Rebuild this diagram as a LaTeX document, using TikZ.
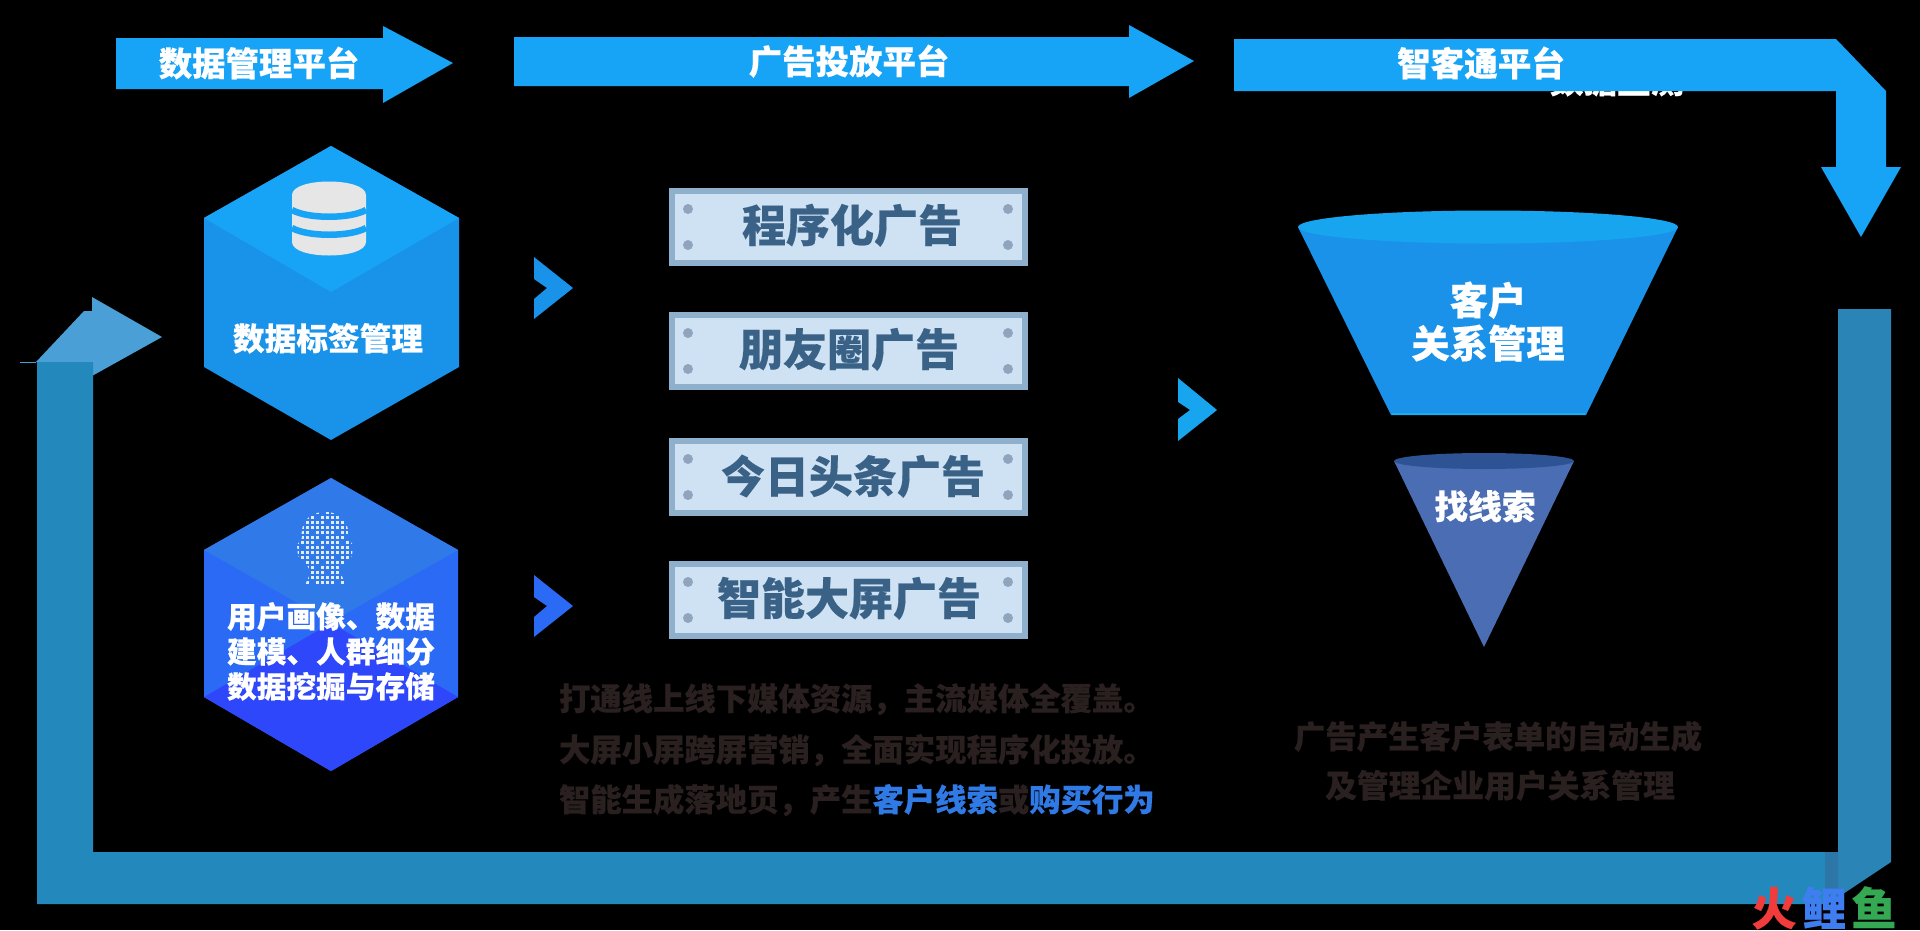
\documentclass[tikz,border=0pt]{standalone}
\usepackage{fontspec}
\setmainfont{Noto Sans CJK SC}[BoldFeatures={FakeBold=0.35}]
\definecolor{arrowblue}{HTML}{17A3F6}
\definecolor{hextop}{HTML}{17A4F6}
\definecolor{hexside}{HTML}{1992EA}
\definecolor{loopblue}{HTML}{2389BC}
\definecolor{loopright}{HTML}{2A84B5}
\definecolor{loopdark}{HTML}{2C76A8}
\definecolor{looplight}{HTML}{4A9FD6}
\definecolor{hbtop}{HTML}{3079E8}
\definecolor{hbside}{HTML}{2A6AF5}
\definecolor{hblow}{HTML}{2F47FB}
\definecolor{cardborder}{HTML}{8FB0CC}
\definecolor{cardfill}{HTML}{CFE2F3}
\definecolor{rivet}{HTML}{8FA5BD}
\definecolor{cardtext}{HTML}{3A6186}
\definecolor{paratext}{HTML}{2A2020}
\definecolor{accent}{HTML}{2F7AE5}
\definecolor{funnelside}{HTML}{1A92EA}
\definecolor{funneltop}{HTML}{18A5F0}
\definecolor{funneledge}{HTML}{18B0EE}
\definecolor{smallside}{HTML}{4A6DB3}
\definecolor{smalltop}{HTML}{2D5394}
\definecolor{dbgrey}{HTML}{E6E6E6}
\definecolor{logored}{HTML}{F23B3B}
\definecolor{logoblue}{HTML}{3F7EF0}
\definecolor{logogreen}{HTML}{34A853}
\tikzset{
  lbl/.style 2 args={inner sep=0pt, outer sep=0pt, text=#2, font=\fontsize{#1}{#1}\selectfont\bfseries,
    text height=0.86*#1pt, text depth=0.14*#1pt},
  cardbox/.style={draw=cardborder, line width=5.5pt, fill=cardfill},
  rivetdot/.style={fill=rivet, draw=none},
}
\newcommand{\cardat}[3]{% top, bottom (of outer), name
  \draw[cardbox] (672,#1+3) rectangle (1025,#2-3);
  \foreach \xx in {688,1008}{
    \fill[rivetdot] (\xx,#1+21) circle (5);
    \fill[rivetdot] (\xx,#1+57) circle (5);
  }
}
\begin{document}
\begin{tikzpicture}[x=1pt,y=-1pt]
\useasboundingbox (0,0) rectangle (1920,930);
\fill[black] (0,0) rectangle (1920,930);

% hidden label behind the third banner
\node[lbl={33.5}{white}] (hiddenlabel) at (1617,81) {数据监测};

% top banners
\fill[arrowblue] (116,38) -- (383,38) -- (383,26) -- (453,63) -- (383,103) -- (383,89) -- (116,89) -- cycle;
\fill[arrowblue] (514,37) -- (1129,37) -- (1129,25) -- (1194,61) -- (1129,98) -- (1129,86) -- (514,86) -- cycle;
\fill[arrowblue] (1234,39) -- (1836,39) -- (1886,91) -- (1886,167) -- (1901,167) -- (1861,237) -- (1821,167) -- (1836,167) -- (1836,91) -- (1234,91) -- cycle;
\node[lbl={33.4}{white}] (bannerA) at (259,64) {数据管理平台};
\node[lbl={33.4}{white}] (bannerB) at (849,62) {广告投放平台};
\node[lbl={33.6}{white}] (bannerC) at (1481,64) {智客通平台};

% hexagon 1
\fill[hexside] (331,146) -- (459,218) -- (459,367) -- (331,440) -- (204,367) -- (204,218) -- cycle;
\fill[hextop] (331,146) -- (459,218) -- (331,292) -- (204,218) -- cycle;
\fill[dbgrey] (292,195) .. controls (292,177) and (366,177) .. (366,195) -- (366,242) .. controls (366,260) and (292,260) .. (292,242) -- cycle;
\draw[hextop, line width=6.5pt] (292,210) .. controls (308,219) and (350,219) .. (366,210);
\draw[hextop, line width=6.5pt] (292,228) .. controls (308,237) and (350,237) .. (366,228);
\node[lbl={31.7}{white}] (hexAtext) at (328,339) {数据标签管理};

% hexagon 2
\fill[hbside] (331,478) -- (458,550) -- (458,697) -- (331,771) -- (204,697) -- (204,550) -- cycle;
\fill[hbtop] (331,478) -- (458,550) -- (331,622) -- (204,550) -- cycle;
\fill[hblow] (331,623) -- (458,697) -- (331,771) -- (204,697) -- cycle;
\begin{scope}
  \clip (325,512) .. controls (345,512) and (350,528) .. (348,538) -- (353,545) -- (352,556) -- (345,562) -- (340,572) -- (346,585) -- (305,585) -- (311,572) -- (305,562) -- (298,556) -- (297,545) -- (302,538) .. controls (300,528) and (305,512) .. (325,512) -- cycle;
  \foreach \i in {0,...,11}{
    \foreach \j in {0,...,15}{
      \pgfmathtruncatemacro\kk{mod(\i*7+\j*13+\i*\j,5)}
      \ifnum\kk>0
        \fill[white, opacity=0.85] (296+\i*5,511+\j*5) rectangle ++(3.3,3.3);
      \fi
    }
  }
\end{scope}
\node[lbl={29.7}{white}] (hexBa) at (331,617) {用户画像、数据};
\node[lbl={29.7}{white}] (hexBb) at (331,652) {建模、人群细分};
\node[lbl={29.7}{white}] (hexBc) at (331,687) {数据挖掘与存储};

% chevrons
\fill[fill=hexside] (534,257) -- (573,288) -- (534,319) -- (534,299) -- (547,288) -- (534,279) -- cycle;
\fill[fill=hbside] (534,575) -- (573,606) -- (534,637) -- (534,617) -- (547,606) -- (534,597) -- cycle;
\fill[fill=funneltop] (1178,378) -- (1217,410) -- (1178,441) -- (1178,419) -- (1190,410) -- (1178,402) -- cycle;

% cards
\cardat{188}{266}{a}
\cardat{312}{390}{b}
\cardat{438}{516}{c}
\cardat{561}{639}{d}
\node[lbl={44}{cardtext}] (cardA) at (852,226) {程序化广告};
\node[lbl={44}{cardtext}] (cardB) at (849,350) {朋友圈广告};
\node[lbl={44}{cardtext}] (cardC) at (853,477) {今日头条广告};
\node[lbl={44}{cardtext}] (cardD) at (849,599) {智能大屏广告};

% paragraph
\node[lbl={31.35}{paratext}, anchor=west] (paraA) at (559,699) {打通线上线下媒体资源，主流媒体全覆盖。};
\node[lbl={31.35}{paratext}, anchor=west] (paraB) at (559,750) {大屏小屏跨屏营销，全面实现程序化投放。};
\node[lbl={31.35}{paratext}, anchor=west] (paraC) at (559,800) {智能生成落地页，产生\textcolor{accent}{客户线索}或\textcolor{accent}{购买行为}};

% funnels
\fill[funnelside] (1298,227) -- (1678,227) -- (1586,415) -- (1391,415) -- cycle;
\fill[funneledge] (1392,413) rectangle (1585,415);
\fill[funneltop] (1488,227) ellipse (190 and 16.5);
\node[lbl={38.3}{white}] (funnelAa) at (1488,301) {客户};
\node[lbl={38.3}{white}] (funnelAb) at (1488,344) {关系管理};
\fill[smallside] (1394,461) -- (1574,461) -- (1484,647) -- cycle;
\fill[smalltop] (1484,461) ellipse (90 and 8);
\node[lbl={33.7}{white}] (funnelBt) at (1485,507) {找线索};
\node[lbl={31.4}{paratext}] (noteA) at (1498,737) {广告产生客户表单的自动生成};
\node[lbl={31.8}{paratext}] (noteB) at (1500,786) {及管理企业用户关系管理};

% return loop
\fill[looplight] (92,297) -- (162,337) -- (92,376) -- (92,362) -- (36,362) -- (84,311) -- (92,311) -- cycle;
\draw[looplight, line width=1pt] (20,362) -- (36,362);
\fill[loopblue] (37,362) -- (93,362) -- (93,852) -- (1825,852) -- (1825,904) -- (37,904) -- cycle;
\fill[loopright] (1838,309) -- (1891,309) -- (1891,862) -- (1828,904) -- (1825,904) -- (1825,852) -- (1838,852) -- cycle;
\fill[loopdark] (1825,852) -- (1838,852) -- (1838,897) -- (1828,904) -- (1825,904) -- cycle;

% logo
\node[lbl={45}{logored}] (logoA) at (1774,909) {火};
\node[lbl={45}{logoblue}] (logoB) at (1824,909) {鲤};
\node[lbl={45}{logogreen}] (logoC) at (1874,909) {鱼};
\end{tikzpicture}
\end{document}
